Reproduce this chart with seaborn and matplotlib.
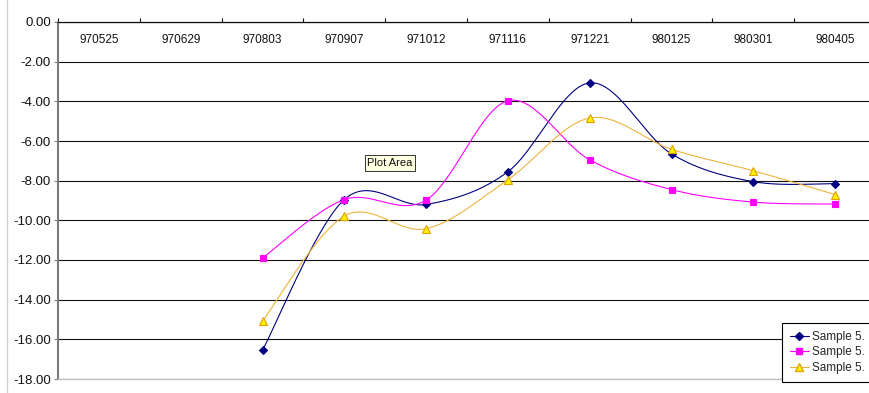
import numpy as np
import pandas as pd
import matplotlib
matplotlib.use("Agg")
import matplotlib.pyplot as plt
from matplotlib.lines import Line2D
from matplotlib.ticker import FixedLocator, FixedFormatter
import seaborn as sns

# Sampling dates (category axis) and the three measured series
dates = ["970525", "970629", "970803", "970907", "971012",
         "971116", "971221", "980125", "980301", "980405"]
sample_a = [np.nan, np.nan, -16.55, -8.95, -9.2, -7.55, -3.07, -6.65, -8.05, -8.15]
sample_b = [np.nan, np.nan, -11.9, -8.95, -8.98, -3.97, -6.95, -8.45, -9.08, -9.18]
sample_c = [np.nan, np.nan, -15.08, -9.78, -10.42, -7.95, -4.84, -6.42, -7.5, -8.7]
series_names = ["Sample 5.", "Sample 5.", "Sample 5."]
y_ticks = [-18, -16, -14, -12, -10, -8, -6, -4, -2, 0]

colors = ["#000080", "#FF00FF", "#EEB43A"]
marker_face = ["#000080", "#FF00FF", "#FFF200"]
marker_edge = ["#000080", "#FF00FF", "#E0A000"]
marker_shape = ["D", "s", "^"]
marker_size = [4.0, 5.0, 6.0]


def smooth_curve(xs, ys, steps=40):
    """Catmull-Rom style Bezier smoothing through the given points."""
    pts = np.column_stack([xs, ys])
    n = len(pts)
    out = [pts[0]]
    for i in range(n - 1):
        p0 = pts[i - 1] if i > 0 else pts[i]
        p1 = pts[i]
        p2 = pts[i + 1]
        p3 = pts[i + 2] if i + 2 < n else pts[i + 1]
        c1 = p1 + (p2 - p0) / 6.0
        c2 = p2 - (p3 - p1) / 6.0
        t = np.linspace(0, 1, steps)[1:, None]
        seg = ((1 - t) ** 3) * p1 + 3 * ((1 - t) ** 2) * t * c1 \
            + 3 * (1 - t) * t ** 2 * c2 + t ** 3 * p2
        out.extend(seg)
    out = np.array(out)
    return out[:, 0], out[:, 1]


sns.set_theme(style="white")
plt.rcParams["font.family"] = ["Liberation Sans", "DejaVu Sans"]

fig = plt.figure(figsize=(8.7, 3.93), dpi=100)
ax = fig.add_axes([58 / 870, 1 - 379 / 393, 818 / 870, 357 / 393])

x_idx = np.arange(len(dates))
curve_frames = []
point_frames = []
for k, vals in enumerate([sample_a, sample_b, sample_c]):
    v = np.array(vals, dtype=float)
    ok = ~np.isnan(v)
    cx, cy = smooth_curve(x_idx[ok].astype(float), v[ok])
    curve_frames.append(pd.DataFrame({"x": cx, "y": cy, "series": f"s{k}"}))
    point_frames.append(pd.DataFrame({"x": x_idx[ok], "y": v[ok], "series": f"s{k}"}))
curves = pd.concat(curve_frames, ignore_index=True)
points = pd.concat(point_frames, ignore_index=True)

palette = {f"s{k}": colors[k] for k in range(3)}
sns.lineplot(data=curves, x="x", y="y", hue="series", palette=palette,
             sort=False, estimator=None, legend=False, linewidth=0.8, ax=ax,
             zorder=3)
for k in range(3):
    sub = points[points["series"] == f"s{k}"]
    ax.plot(sub["x"], sub["y"], linestyle="none", marker=marker_shape[k],
            markersize=marker_size[k], markerfacecolor=marker_face[k],
            markeredgecolor=marker_edge[k], markeredgewidth=0.8, zorder=4)

ax.set_xlim(-0.5, len(dates) - 0.5)
ax.set_ylim(-18, 0)
ax.set_xlabel("")
ax.set_ylabel("")

# Y axis: labels on the left, horizontal black gridlines
ax.yaxis.set_major_locator(FixedLocator(y_ticks))
ax.yaxis.set_major_formatter(FixedFormatter([f"{v:.2f}" for v in y_ticks]))
ax.tick_params(axis="y", left=True, length=3, width=0.8, color="#808080",
               direction="out", pad=2, labelsize=9.5, labelcolor="#111111")
ax.yaxis.grid(True, color="#111111", linewidth=0.8)
ax.set_axisbelow(True)

# X axis sits at the top (value 0); labels hang just below it
ax.xaxis.set_major_locator(FixedLocator(x_idx))
ax.xaxis.set_major_formatter(FixedFormatter(dates))
ax.xaxis.set_minor_locator(FixedLocator(np.arange(-0.5, len(dates), 1.0)))
ax.tick_params(axis="x", which="major", top=True, bottom=False,
               labeltop=True, labelbottom=False, length=0, pad=-17,
               labelsize=8.5, labelcolor="#111111")
ax.tick_params(axis="x", which="minor", top=True, bottom=False,
               length=3, width=0.8, color="#111111", direction="out")

for side, col, lw in [("top", "#111111", 0.9), ("left", "#7a7a7a", 1.5),
                      ("bottom", "#c0c0c0", 1.0), ("right", "#c0c0c0", 1.0)]:
    ax.spines[side].set_visible(True)
    ax.spines[side].set_color(col)
    ax.spines[side].set_linewidth(lw)
    ax.spines[side].set_zorder(2.6)

# Legend box at lower right
handles = [Line2D([0], [0], color=colors[k], linewidth=0.8,
                  marker=marker_shape[k], markersize=marker_size[k],
                  markerfacecolor=marker_face[k], markeredgecolor=marker_edge[k])
           for k in range(3)]
leg = ax.legend(handles, series_names, loc="upper left",
                bbox_to_anchor=(782 / 870, 1 - 323 / 393),
                bbox_transform=fig.transFigure, fontsize=8.5, frameon=True,
                fancybox=False, borderpad=0.65, labelspacing=0.32,
                handlelength=1.6, handletextpad=0.3, borderaxespad=0)
leg.get_frame().set_edgecolor("black")
leg.get_frame().set_linewidth(0.8)
leg.get_frame().set_facecolor("white")
leg.get_frame().set_alpha(1)
leg.set_zorder(6)

# Hover hint label inside the plot
fig.text(390 / 870, 1 - 163 / 393, "Plot Area", ha="center", va="center",
         fontsize=8, color="#111111", zorder=7,
         bbox=dict(boxstyle="square,pad=0.25", facecolor="#FFFFE1",
                   edgecolor="#333333", linewidth=0.7))

# Outer chart border on the left
fig.add_artist(Line2D([7.5 / 870, 7.5 / 870], [0, 1], color="#d0d0d0",
                      linewidth=1.0, transform=fig.transFigure))

fig.savefig("out.png", dpi=100, facecolor="white")
